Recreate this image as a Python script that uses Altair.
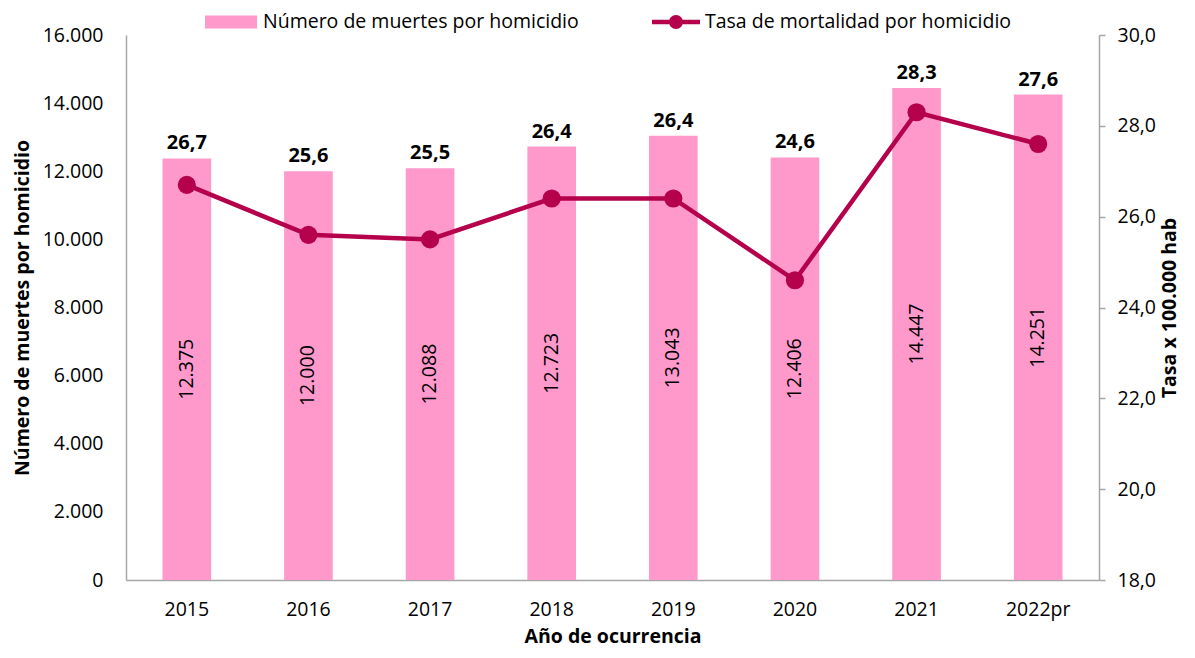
import altair as alt
import pandas as pd

years = ["2015", "2016", "2017", "2018", "2019", "2020", "2021", "2022pr"]
deaths = [12375, 12000, 12088, 12723, 13043, 12406, 14447, 14251]
rates = [26.7, 25.6, 25.5, 26.4, 26.4, 24.6, 28.3, 27.6]
bar_name = "Número de muertes por homicidio"
line_name = "Tasa de mortalidad por homicidio"
left_ticks = [0, 2000, 4000, 6000, 8000, 10000, 12000, 14000, 16000]
right_ticks = [18, 20, 22, 24, 26, 28, 30]

df = pd.DataFrame({
    "year": years,
    "deaths": deaths,
    "rate": rates,
    "bar_s": [bar_name] * len(years),
    "line_s": [line_name] * len(years),
})

FONT = "Open Sans"
PINK = "#FF99CC"
MAG = "#B5004B"
GRAY = "#A6A6A6"
FS = 19.5

base = alt.Chart(df).transform_calculate(
    deaths_lbl="replace(format(datum.deaths, ',.0f'), ',', '.')",
    rate_lbl="replace(format(datum.rate, '.1f'), '.', ',')",
    half="datum.deaths / 2",
)

x = alt.X(
    "year:N", sort=years,
    scale=alt.Scale(paddingInner=0.6, paddingOuter=0.3),
    axis=alt.Axis(title="Año de ocurrencia", labelAngle=0, ticks=False,
                  labelPadding=20, titlePadding=9, domainColor=GRAY,
                  domainWidth=1.5, labelFontSize=FS, titleFontSize=FS,
                  titleFontWeight="bold", labelColor="black", titleColor="black",
                  labelFont=FONT, titleFont=FONT),
)

y_left = alt.Y(
    "deaths:Q",
    scale=alt.Scale(domain=[0, 16000]),
    axis=alt.Axis(title="Número de muertes por homicidio", values=left_ticks,
                  labelExpr="replace(format(datum.value, ',.0f'), ',', '.')",
                  ticks=False, grid=False, labelPadding=23, titlePadding=10,
                  domainColor=GRAY, domainWidth=1.5, labelFontSize=FS,
                  titleFontSize=FS, titleFontWeight="bold", labelColor="black",
                  titleColor="black", labelFont=FONT, titleFont=FONT),
)

bar_sym = "M-1,-0.25H1V0.25H-1Z"
line_sym = ("M-1,-0.094H-0.25V0.094H-1Z M0.25,-0.094H1V0.094H0.25Z "
            "M-0.29,0A0.29,0.29 0 1,1 0.29,0A0.29,0.29 0 1,1 -0.29,0Z")

bars = base.mark_bar(color=PINK).encode(
    x=x, y=y_left,
    color=alt.Color("bar_s:N", scale=alt.Scale(domain=[bar_name], range=[PINK]),
                    legend=alt.Legend(title=None, orient="none", legendX=79,
                                      legendY=-39, symbolType=bar_sym,
                                      symbolSize=2704, labelFontSize=FS,
                                      labelFont=FONT, labelColor="black",
                                      labelLimit=0,
                                      symbolStrokeWidth=0, padding=0,
                                      labelOffset=6)),
)

count_text = base.mark_text(angle=270, fontSize=FS, font=FONT, color="black",
                            align="center", baseline="middle").encode(
    x=x, y=alt.Y("half:Q"), text="deaths_lbl:N",
)

rate_text = base.mark_text(fontSize=20, font=FONT, fontWeight="bold",
                           color="black", align="center", baseline="alphabetic",
                           dy=-9).encode(
    x=x, y=alt.Y("deaths:Q"), text="rate_lbl:N",
)

left = alt.layer(bars, count_text, rate_text)

y_right = alt.Y(
    "rate:Q",
    scale=alt.Scale(domain=[18, 30]),
    axis=alt.Axis(title="Tasa x 100.000 hab", orient="right", values=right_ticks,
                  labelExpr="replace(format(datum.value, '.1f'), '.', ',')",
                  ticks=True, tickSize=6, tickColor=GRAY, tickWidth=1.5,
                  grid=False, labelPadding=12, titlePadding=5, titleAngle=270,
                  titleBaseline="top",
                  domainColor=GRAY, domainWidth=1.5, labelFontSize=FS,
                  titleFontSize=FS, titleFontWeight="bold", labelColor="black",
                  titleColor="black", labelFont=FONT, titleFont=FONT),
)

line = base.mark_line(color=MAG, strokeWidth=4.5).encode(x=x, y=y_right)
points = base.mark_point(filled=True, size=330, opacity=1).encode(
    x=x, y=y_right,
    color=alt.Color("line_s:N", scale=alt.Scale(domain=[line_name], range=[MAG]),
                    legend=alt.Legend(title=None, orient="none", legendX=526,
                                      legendY=-37, symbolType=line_sym,
                                      symbolSize=2304, labelFontSize=FS,
                                      labelFont=FONT, labelColor="black",
                                      labelLimit=0,
                                      symbolStrokeWidth=0, padding=0,
                                      labelOffset=5)),
)

right = alt.layer(line, points)

chart = alt.layer(left, right).resolve_scale(
    y="independent", color="independent"
).properties(
    width=973, height=545,
    padding={"left": 118, "top": 27, "right": 88, "bottom": 70},
    autosize=alt.AutoSizeParams(type="none"),
).configure_view(stroke=None)

chart.save("out.html", embed_options={"renderer": "svg", "actions": False})
